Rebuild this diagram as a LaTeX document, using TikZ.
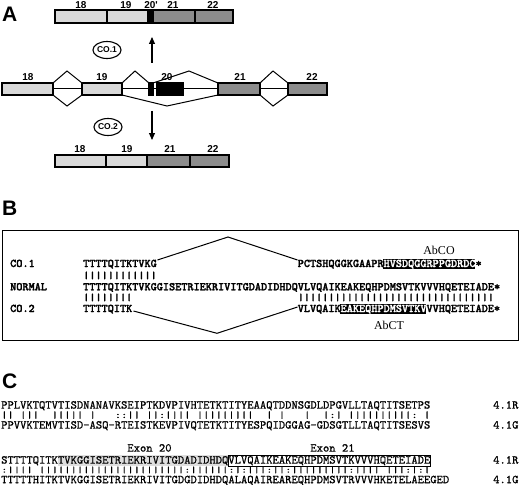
\documentclass[tikz,border=0pt]{standalone}
\usepackage{graphicx}
\usepackage{fontspec}
\setmainfont{Liberation Serif}
\newfontfamily\hel{Liberation Sans}
\newfontfamily\seqfont{lmmono10-regular.otf}[FakeBold=0.8]
\newfontfamily\seqbold{lmmonolt10-bold.otf}[FakeBold=2]
\usetikzlibrary{shapes.geometric,arrows.meta}
\definecolor{lightex}{gray}{0.85}
\definecolor{darkex}{gray}{0.55}
\definecolor{shadetw}{gray}{0.87}
\newcommand{\sqbars}[2]{\scalebox{1}[#1]{#2}}
\begin{document}
\begin{tikzpicture}[x=1pt,y=-1pt,
  exlight/.style={draw=black,line width=1.1pt,fill=lightex},
  exdark/.style={draw=black,line width=1.1pt,fill=darkex},
  exblack/.style={draw=black,line width=1.1pt,fill=black},
  intron/.style={line width=1pt},
  exlab/.style={font=\hel\bfseries\fontsize{10}{10}\selectfont,anchor=base,inner sep=0},
  panel/.style={font=\hel\bfseries\fontsize{21}{21}\selectfont,anchor=base west,inner sep=0},
  seqB/.style={font=\seqbold\fontsize{11.68}{12}\selectfont,anchor=base west,inner sep=0},
  seqC/.style={font=\seqfont\fontsize{12.02}{12}\selectfont,anchor=base west,inner sep=0},
  co/.style={ellipse,draw,line width=1.1pt,minimum width=28pt,minimum height=17pt,inner sep=0,font=\hel\bfseries\fontsize{8.5}{9}\selectfont},
  ab/.style={font=\fontsize{12}{12}\selectfont,inner sep=0},
  arr/.style={-{Triangle[length=7pt,width=6pt]},line width=1.1pt},
  link/.style={line width=1pt}]
\useasboundingbox (0,0) rectangle (520,495);
\def\wb{6.13}
\def\wc{6.31}
% ---------------- Panel A
\node[panel] (pA) at (2,22) {A};
% top bar (CO.1 product)
\draw[exlight] (55,10) rectangle (107,23);
\draw[exlight] (107,10) rectangle (148,23);
\draw[exblack] (148,10) rectangle (153,23);
\draw[exdark] (153,10) rectangle (195,23);
\draw[exdark] (195,10) rectangle (233,23);
\node[exlab] (t18) at (81,8.5) {18};
\node[exlab] (t19) at (126,8.5) {19};
\node[exlab] (t20) at (151,8.5) {20'};
\node[exlab] (t21) at (173,8.5) {21};
\node[exlab] (t22) at (213,8.5) {22};
% genomic row
\draw[intron] (53,89)--(82,89) (122,89)--(149,89) (153,89)--(157,89) (183,89)--(218,89) (260,89)--(288,89);
\draw[exlight] (2,83) rectangle (53,95);
\draw[exlight] (82,83) rectangle (122,95);
\draw[exblack] (149,83) rectangle (153,95);
\draw[exblack] (157,83) rectangle (183,95);
\draw[exdark] (218,83) rectangle (260,95);
\draw[exdark] (288,83) rectangle (327,95);
\draw[intron] (53,83)--(67,71)--(82,83) (53,95)--(67,106)--(82,95);
\draw[intron] (122,83)--(135,71)--(149,83);
\draw[intron] (153,83)--(189,71)--(218,83);
\draw[intron] (122,95)--(167,106)--(218,95);
\draw[intron] (260,83)--(273,71)--(288,83) (260,95)--(273,106)--(288,95);
\node[exlab] (g18) at (28,81) {18};
\node[exlab] (g19) at (102,81) {19};
\node[exlab] (g20) at (167,81) {20};
\node[exlab] (g21) at (240,81) {21};
\node[exlab] (g22) at (312,81) {22};
% arrows and ellipses
\coordinate (u1) at (152,63);
\coordinate (u2) at (152,37);
\draw[arr] (u1) -- (u2);
\coordinate (d1) at (152,111);
\coordinate (d2) at (152,140);
\draw[arr] (d1) -- (d2);
\node[co] (co1) at (107,50) {CO.1};
\node[co] (co2) at (108,127) {CO.2};
% bottom bar (CO.2 product)
\draw[exlight] (55,155) rectangle (106,167);
\draw[exlight] (106,155) rectangle (147,167);
\draw[exdark] (147,155) rectangle (190,167);
\draw[exdark] (190,155) rectangle (229,167);
\node[exlab] (b18) at (80,153) {18};
\node[exlab] (b19) at (127,153) {19};
\node[exlab] (b21) at (170,153) {21};
\node[exlab] (b22) at (213,153) {22};
% ---------------- Panel B
\node[panel] (pB) at (2,215) {B};
\draw[line width=0.9pt] (2,230) rectangle (518,340);
\node[seqB] (l1) at (10,267) {CO.1};
\node[seqB] (l2) at (10,290.3) {NORMAL};
\node[seqB] (l3) at (10,312) {CO.2};
\fill[black] ({83+49*\wb},258.5) rectangle ({83+64*\wb},269);
\fill[black] ({83+42*\wb},303.5) rectangle ({83+56*\wb},314);
\node[seqB] (c1a) at (83,267) {TTTTQITKTVKG};
\node[seqB] (c1b) at ({83+35*\wb},267) {PCTSHQGGKGAAPR\textcolor{white}{HVSDQGGRPPGDRDC}*};
\node[seqB] (bar1) at (83,278.5) {\sqbars{0.85}{||||||||||||}};
\node[seqB] (nrm) at (83,290.3) {TTTTQITKTVKGGISETRIEKRIVITGDADIDHDQVLVQAIKEAKEQHPDMSVTKVVVHQETEIADE*};
\node[seqB] (bar2) at (83,300.5) {\sqbars{0.85}{||||||||}};
\node[seqB] (bar3) at ({83+35*\wb},300.5) {\sqbars{0.85}{||||||||||||||||||||||||||||||||}};
\node[seqB] (c2a) at (83,312) {TTTTQITK};
\node[seqB] (c2b) at ({83+35*\wb},312) {VLVQAIK\textcolor{white}{EAKEQHPDMSVTKV}VVHQETEIADE*};
\coordinate (pk1) at (228,237);
\coordinate (pk2) at (217,333.3);
\draw[link] ([xshift=0.5pt,yshift=7pt]c1a.base east) -- (pk1) -- ([yshift=7pt]c1b.base west);
\draw[link] ([xshift=1pt,yshift=1pt]c2a.base east) -- (pk2) -- ([yshift=5pt]c2b.base west);
\node[ab] (abco) at (439,250) {AbCO};
\node[ab] (abct) at (389,325) {AbCT};
% ---------------- Panel C
\node[panel] (pC) at (2,388) {C};
\node[seqC] (r1) at (1,408.6) {PPLVKTQTVTISDNANAVKSEIPTKDVPIVHTETKTITYEAAQTDDNSGDLDPGVLLTAQTITSETPS};
\node[seqC] (m1) at (1,418) {\sqbars{0.8}{||~|||~~|||||~|~~~::||~||:||||~|||||||||~~|~|~~~|~~|:|~||||||||||:~|}};
\node[seqC] (g1) at (1,428.6) {PPVVKTEMVTISD-ASQ-RTEISTKEVPIVQTETKTITYESPQIDGGAG-GDSGTLLTAQTITSESVS};
\node[seqC] (n1r) at (493,408.6) {4.1R};
\node[seqC] (n1g) at (493,428.6) {4.1G};
\fill[shadetw] ({1+9*\wc},455) rectangle ({1+36*\wc},466);
\draw[line width=0.7pt] ({1+36*\wc},455) rectangle ({1+68*\wc},466);
\node[seqC] (ex20) at ({1+20*\wc},451.6) {Exon~20};
\node[seqC] (ex21) at ({1+49*\wc},451.6) {Exon~21};
\node[seqC] (r2) at (1,463.6) {STTTTQITKTVKGGISETRIEKRIVITGDADIDHDQVLVQAIKEAKEQHPDMSVTKVVVHQETEIADE};
\node[seqC] (m2) at (1,472.6) {\sqbars{0.72}{:||||~|||||||||||||||||||||||:||||||:|:|||:||:|||||||||:||||~|||:|:|}};
\node[seqC] (g2) at (1,483.2) {TTTTTHITKTVKGGISETRIEKRIVITGDGDIDHDQALAQAIREAREQHPDMSVTRVVVHKETELAEEGED};
\node[seqC] (n2r) at (493,463.6) {4.1R};
\node[seqC] (n2g) at (493,483.2) {4.1G};
\end{tikzpicture}
\end{document}
